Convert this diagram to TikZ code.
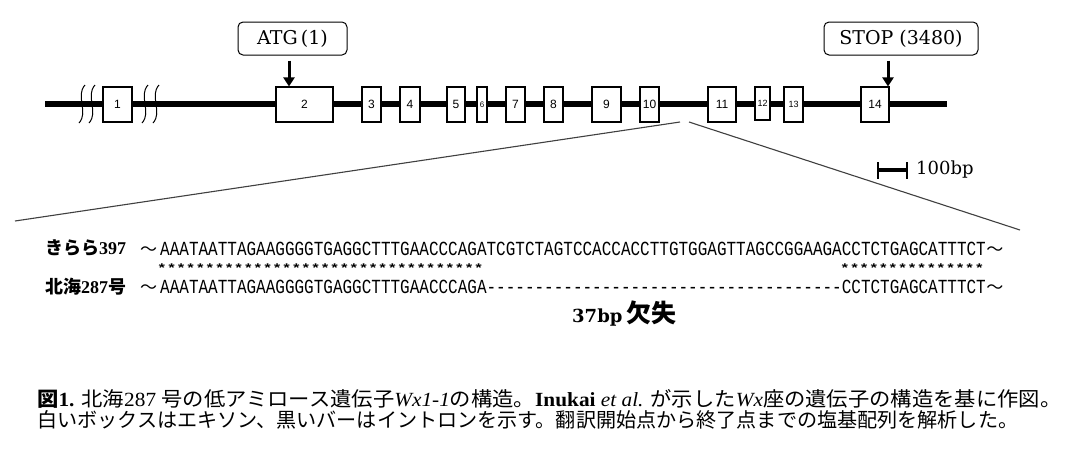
\documentclass[tikz,border=0pt]{standalone}
\usepackage{fontspec}
\usetikzlibrary{arrows.meta}
\setmainfont{Liberation Serif}
\newfontfamily\cjk{Noto Sans CJK JP}
\newfontfamily\seqf[FakeStretch=0.8,Ligatures=TeXOff]{Liberation Mono}
\newfontfamily\starf[FakeStretch=1.333,Ligatures=TeXOff]{Liberation Mono}
\newfontfamily\dvs{DejaVu Serif}
\newfontfamily\exf{Liberation Sans}
\tikzset{
  exon/.style={draw, line width=1.1pt, fill=white, inner sep=0pt, minimum height=35pt, font=\exf\fontsize{12}{12}\selectfont},
  callout/.style={draw, line width=1pt, rounded corners=5pt, minimum height=33pt, inner sep=0pt, font=\dvs\fontsize{19}{19}\selectfont},
  pointer/.style={line width=3pt, -{Triangle[width=11pt,length=9pt]}},
  zoomline/.style={line width=1.1pt, black!75},
  seqtext/.style={inner sep=0pt, anchor=base west, font=\seqf\fontsize{20}{20}\selectfont},
  startext/.style={inner sep=0pt, anchor=base west, font=\starf\bfseries\fontsize{12}{12}\selectfont},
  lbl/.style={inner sep=0pt, anchor=base west, font=\fontsize{18}{18}\selectfont},
  tild/.style={inner sep=0pt, anchor=base west, font=\cjk\fontsize{17}{17}\selectfont},
  captext/.style={inner sep=0pt, anchor=base west, font=\fontsize{20.1}{20.1}\selectfont},
  brk/.style={line width=1pt},
}
\begin{document}
\begin{tikzpicture}[x=1pt,y=-1pt]
\fill[white] (0,0) rectangle (1073,450);
\useasboundingbox (0,0) rectangle (1073,450);
% backbone
\coordinate (bl) at (45,104);
\coordinate (br) at (947,104);
\draw[line width=6pt] (bl) -- (br);
% break marks
\foreach \x in {82,92,145,156}
  \draw[brk] (\x+3,85) .. controls (\x-7,96) and (\x+7,112) .. (\x-3,123);
% exons
\node[exon, minimum width=29pt] (e1) at (117.5,104.5) {1};
\node[exon, minimum width=57pt] (e2) at (304.5,104.5) {2};
\node[exon, minimum width=19pt] (e3) at (371.5,104.5) {3};
\node[exon, minimum width=20pt] (e4) at (410,104.5) {4};
\node[exon, minimum width=18pt] (e5) at (456,104.5) {5};
\node[exon, minimum width=10pt, font=\exf\fontsize{8}{8}\selectfont] (e6) at (482,104.5) {6};
\node[exon, minimum width=19pt] (e7) at (515.5,104.5) {7};
\node[exon, minimum width=19pt] (e8) at (553.5,104.5) {8};
\node[exon, minimum width=29pt] (e9) at (606.5,104.5) {9};
\node[exon, minimum width=19pt] (e10) at (649.5,104.5) {10};
\node[exon, minimum width=28pt] (e11) at (722,104.5) {11};
\node[exon, minimum width=15pt, minimum height=33pt, font=\exf\fontsize{9}{9}\selectfont] (e12) at (762.5,103.5) {12};
\node[exon, minimum width=19pt, font=\exf\fontsize{9}{9}\selectfont] (e13) at (793.5,104.5) {13};
\node[exon, minimum width=28pt] (e14) at (875,104.5) {14};
% callouts
\node[callout, minimum width=109pt] (atg) at (292.5,38.5) {ATG\,(1)};
\node[callout, minimum width=154pt] (stop) at (901,38.5) {STOP (3480)};
\draw[pointer] ([shift={(-3.5,5)}]atg.south) -- ([xshift=-15.5pt]e2.north);
\draw[pointer] ([shift={(-13,5)}]stop.south) -- ([xshift=13pt]e14.north);
% zoom lines
\coordinate (zl) at (680,122);
\coordinate (zr) at (689,122);
\coordinate (ll) at (15,221);
\coordinate (lr) at (1020,230);
\draw[zoomline] (zl) -- (ll);
\draw[zoomline] (zr) -- (lr);
% scale bar
\coordinate (sa) at (878,170);
\coordinate (sb) at (907,170);
\draw[line width=4pt] (sa) -- (sb);
\draw[line width=1.3pt] ([yshift=8pt]sa) -- ([yshift=-9pt]sa);
\draw[line width=1.3pt] ([yshift=8pt]sb) -- ([yshift=-9pt]sb);
\node[anchor=west, inner sep=0pt, font=\dvs\fontsize{18}{18}\selectfont] (sbl) at (916,170) {100bp};
% sequences
\node[lbl] (n1) at (45,254) {{\cjk\bfseries きらら}\textbf{397}};
\node[lbl] (n2) at (45,293) {{\cjk\bfseries 北海}\textbf{287}{\cjk\bfseries 号}};
\node[tild] (t1) at (140,255) {〜};
\node[tild] (t2) at (140,293) {〜};
\node[seqtext] (s1) at (160,255) {AAATAATTAGAAGGGGTGAGGCTTTGAACCCAGATCGTCTAGTCCACCACCTTGTGGAGTTAGCCGGAAGACCTCTGAGCATTTCT};
\node[tild] (t1r) at (s1.base east) {〜};
\node[startext] (st1) at (157,272) {**********************************};
\node[startext] (st2) at (840,272) {***************};
\node[seqtext] (s2) at (160,293) {AAATAATTAGAAGGGGTGAGGCTTTGAACCCAGA-------------------------------------CCTCTGAGCATTTCT};
\node[tild] (t2r) at (s2.base east) {〜};
\node[lbl] (del) at (572,322) {{\dvs\bfseries\fontsize{18}{18}\selectfont 37bp} {\cjk\bfseries\fontsize{25}{25}\selectfont 欠失}};
% caption
\node[captext] (c1) at (37,406) {\scalebox{1.06}[1]{{\cjk\bfseries 図}\textbf{1.} {\cjk 北海}287 {\cjk 号の低アミロース遺伝子}\textit{Wx1-1}{\cjk の構造。}\textbf{Inukai} \textit{et al.} {\cjk が示した}\textit{Wx}{\cjk 座の遺伝子の構造を基に作図。}}};
\node[captext] (c2) at (37,427) {\cjk 白いボックスはエキソン、黒いバーはイントロンを示す。翻訳開始点から終了点までの塩基配列を解析した。};
\end{tikzpicture}
\end{document}
